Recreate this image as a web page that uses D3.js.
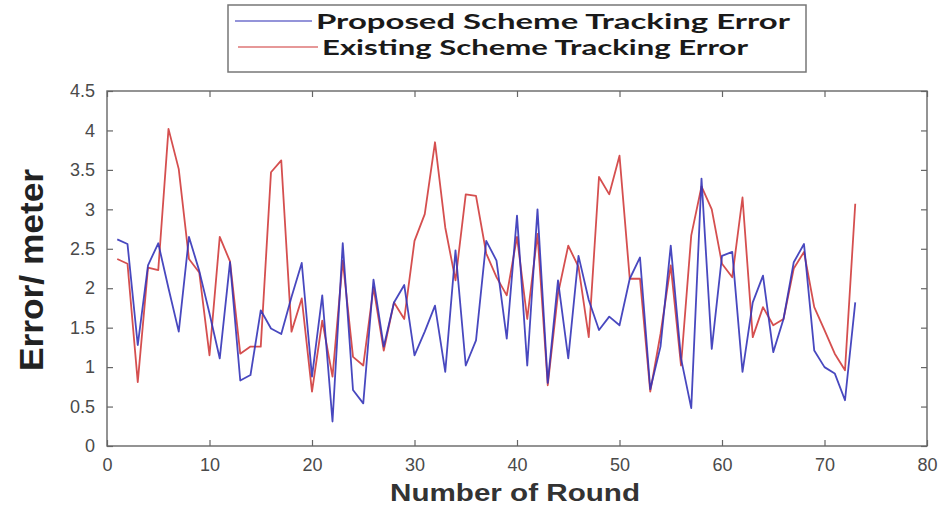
<!DOCTYPE html>
<html>
<head>
<meta charset="utf-8">
<script src="https://cdn.jsdelivr.net/npm/d3@7"></script>
<style>
  body { margin: 0; background: #fff; }
  svg { display: block; }
</style>
</head>
<body>
<div id="chart"></div>
<script>
// rounds 1..73
var rounds = d3.range(1, 74);

var proposed = [2.62, 2.56, 1.28, 2.29, 2.57, 2.0, 1.45, 2.65, 2.22, 1.68,
                1.11, 2.33, 0.83, 0.9, 1.72, 1.49, 1.42, 1.89, 2.32, 0.88,
                1.91, 0.31, 2.57, 0.71, 0.54, 2.11, 1.26, 1.82, 2.04, 1.15,
                1.45, 1.78, 0.94, 2.48, 1.02, 1.34, 2.6, 2.35, 1.36, 2.92,
                1.02, 3.0, 0.8, 2.1, 1.11, 2.41, 1.85, 1.47, 1.64, 1.53,
                2.12, 2.39, 0.72, 1.26, 2.54, 1.11, 0.48, 3.39, 1.23, 2.41,
                2.46, 0.94, 1.82, 2.16, 1.19, 1.61, 2.33, 2.56, 1.21, 1.0,
                0.92, 0.58, 1.82];

var existing = [2.37, 2.31, 0.81, 2.26, 2.23, 4.02, 3.51, 2.37, 2.2, 1.15,
                2.65, 2.34, 1.17, 1.26, 1.26, 3.47, 3.62, 1.45, 1.87, 0.69,
                1.59, 0.88, 2.35, 1.13, 1.02, 2.01, 1.21, 1.82, 1.61, 2.6,
                2.94, 3.85, 2.77, 2.1, 3.19, 3.17, 2.44, 2.14, 1.91, 2.65,
                1.61, 2.69, 0.77, 1.93, 2.54, 2.27, 1.38, 3.41, 3.19, 3.68,
                2.12, 2.12, 0.69, 1.42, 2.29, 1.02, 2.67, 3.29, 3.0, 2.31,
                2.14, 3.15, 1.38, 1.76, 1.53, 1.61, 2.25, 2.46, 1.76, 1.47,
                1.17, 0.96, 3.07];

var xTicks = [0, 10, 20, 30, 40, 50, 60, 70, 80];
var yTicks = [0, 0.5, 1, 1.5, 2, 2.5, 3, 3.5, 4, 4.5];

var seriesNames = ["Proposed Scheme Tracking Error", "Existing Scheme Tracking Error"];
var seriesColors = ["#3434b8", "#d03c3c"];

var W = 944, H = 507;
var margin = {top: 91, right: 17, bottom: 61, left: 107},
    width = W - margin.left - margin.right,
    height = H - margin.top - margin.bottom;

var x = d3.scaleLinear().domain([0, 80]).range([0, width]);
var y = d3.scaleLinear().domain([0, 4.5]).range([height, 0]);

var svg = d3.select("#chart").append("svg")
    .attr("width", W)
    .attr("height", H);

var g = svg.append("g")
    .attr("transform", "translate(" + margin.left + "," + margin.top + ")");

// axes, ticks pointing inward like matlab
var tickFont = "'Liberation Sans', Arial, sans-serif";

g.append("g")
    .attr("class", "x axis")
    .attr("transform", "translate(0," + height + ")")
    .call(d3.axisBottom(x).tickValues(xTicks).tickSizeInner(-6).tickSizeOuter(0).tickPadding(12));

g.append("g")
    .attr("class", "x axis top")
    .call(d3.axisTop(x).tickValues(xTicks).tickSizeInner(-6).tickSizeOuter(0).tickFormat(""));

g.append("g")
    .attr("class", "y axis")
    .call(d3.axisLeft(y).tickValues(yTicks).tickSizeInner(-6).tickSizeOuter(0).tickPadding(12)
      .tickFormat(function(d) { return d3.format("")(d); }));

g.append("g")
    .attr("class", "y axis right")
    .attr("transform", "translate(" + width + ",0)")
    .call(d3.axisRight(y).tickValues(yTicks).tickSizeInner(-6).tickSizeOuter(0).tickFormat(""));

g.selectAll(".axis .domain").remove();
g.selectAll(".axis line").attr("stroke", "#666").attr("stroke-width", 1.2);
g.selectAll(".axis text")
    .attr("fill", "#4a4a4a")
    .style("font-family", tickFont)
    .style("font-size", "18px");

g.append("rect")
    .attr("width", width)
    .attr("height", height)
    .attr("fill", "none")
    .attr("stroke", "#666")
    .attr("stroke-width", 1.4);

// series
var line = d3.line()
    .x(function(d, i) { return x(rounds[i]); })
    .y(function(d) { return y(d); });

[existing, proposed].forEach(function(s, k) {
  g.append("path")
    .datum(s)
    .attr("fill", "none")
    .attr("stroke", k === 0 ? seriesColors[1] : seriesColors[0])
    .attr("stroke-width", 1.8)
    .attr("stroke-opacity", 0.9)
    .attr("stroke-linejoin", "round")
    .attr("d", line);
});

// axis titles
svg.append("text")
    .attr("transform", "translate(43,270) rotate(-90)")
    .attr("text-anchor", "middle")
    .attr("textLength", 202)
    .attr("lengthAdjust", "spacingAndGlyphs")
    .style("font-family", tickFont)
    .style("font-weight", "bold")
    .style("font-size", "34px")
    .attr("fill", "#222")
    .text("Error/ meter");

svg.append("text")
    .attr("x", 515)
    .attr("y", 501)
    .attr("text-anchor", "middle")
    .attr("textLength", 250)
    .attr("lengthAdjust", "spacingAndGlyphs")
    .style("font-family", tickFont)
    .style("font-weight", "bold")
    .style("font-size", "23px")
    .attr("fill", "#333")
    .text("Number of Round");

// legend
var legend = svg.append("g");
legend.append("rect")
    .attr("x", 228).attr("y", 5)
    .attr("width", 578).attr("height", 67)
    .attr("fill", "#fff")
    .attr("stroke", "#777")
    .attr("stroke-width", 1.5);

var legY = [21, 47], legX0 = [235, 238], legX1 = [312, 318],
    legTx = [316, 322], legLen = [474, 426];

seriesNames.forEach(function(name, i) {
  legend.append("line")
    .attr("x1", legX0[i]).attr("x2", legX1[i])
    .attr("y1", legY[i]).attr("y2", legY[i])
    .attr("stroke", seriesColors[i])
    .attr("stroke-opacity", 0.7)
    .attr("stroke-width", 1.5);
  legend.append("text")
    .attr("x", legTx[i])
    .attr("y", legY[i] + 8)
    .attr("textLength", legLen[i])
    .attr("lengthAdjust", "spacingAndGlyphs")
    .style("font-family", "Lato, 'Liberation Sans', sans-serif")
    .style("font-weight", "bold")
    .style("font-size", "21px")
    .attr("fill", "#1a1a1a")
    .text(name);
});
</script>
</body>
</html>
